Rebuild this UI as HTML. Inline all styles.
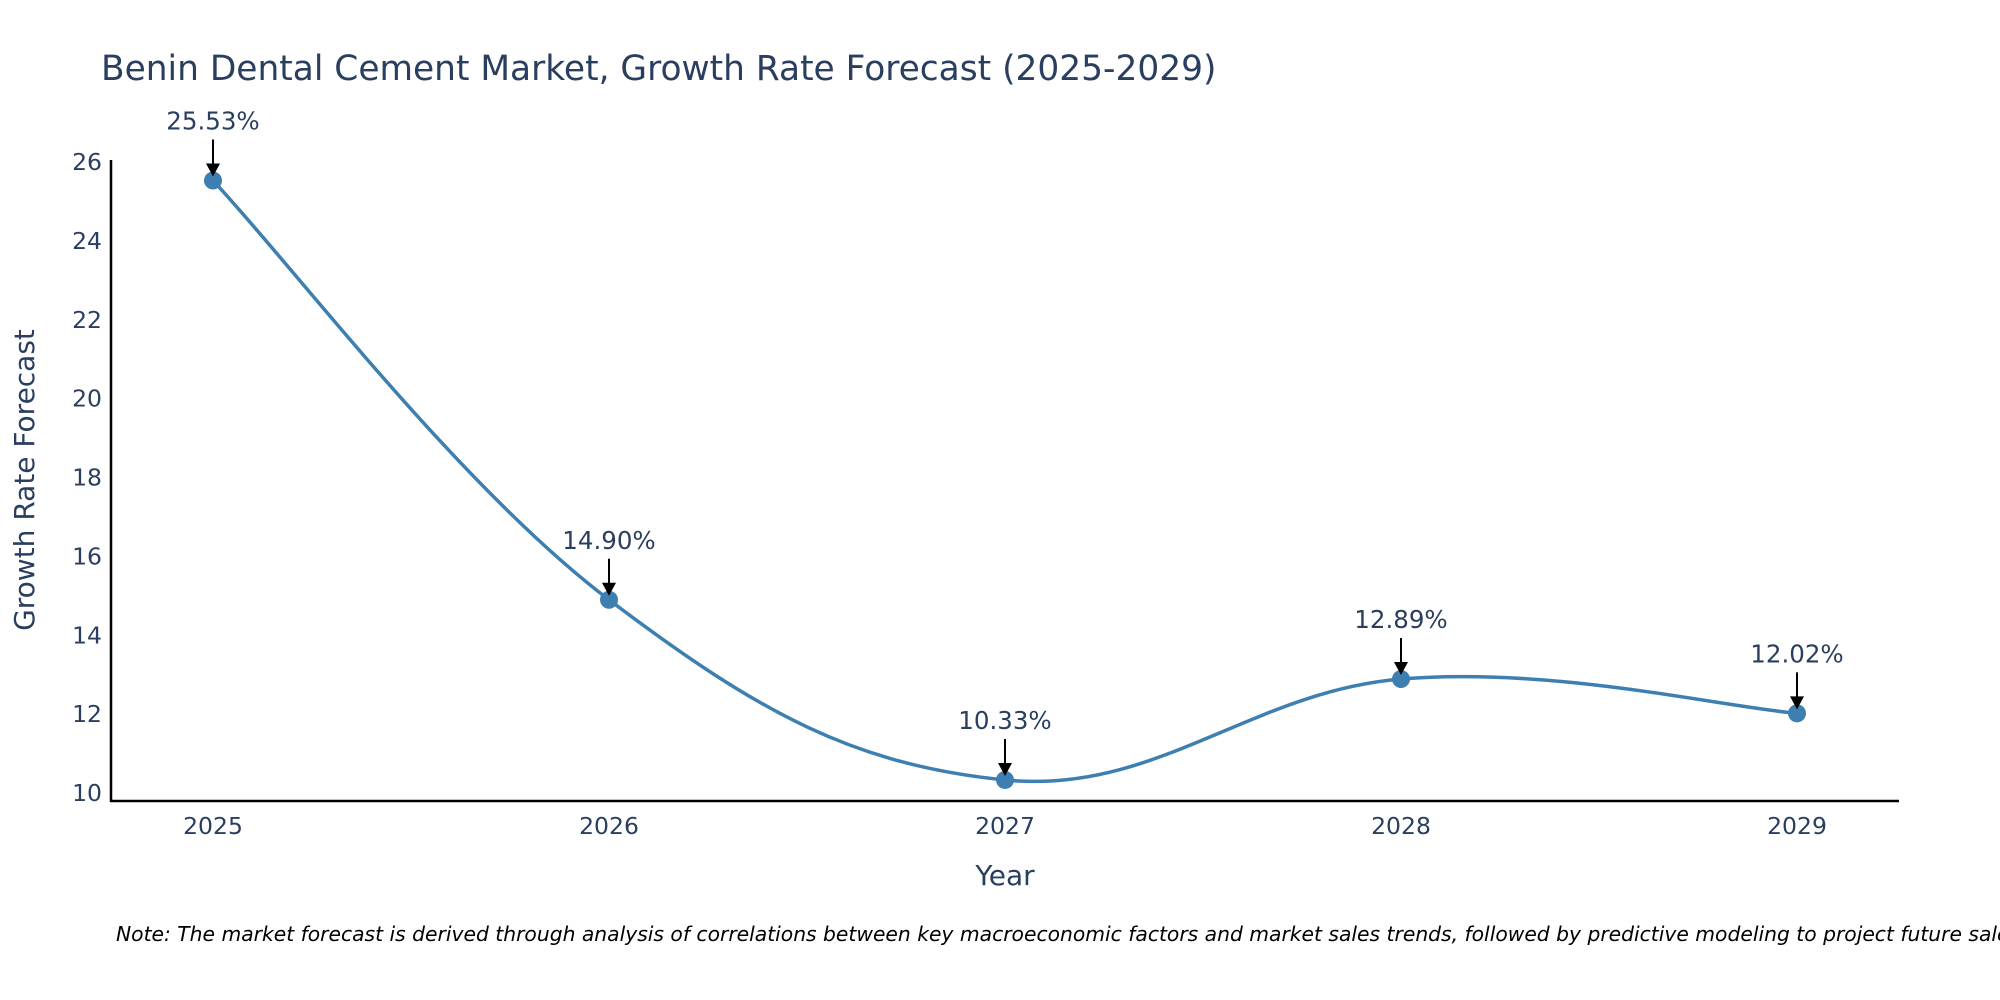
<!DOCTYPE html>
<html><head><meta charset="utf-8"><style>
html,body{margin:0;padding:0;background:#fff;}
svg{display:block;font-family:"DejaVu Sans","Liberation Sans",sans-serif;}
</style></head><body>
<svg id="chart" width="2000" height="1000" viewBox="0 0 2000 1000">
<text x="101" y="80" font-size="34.4" fill="#2a3f5f">Benin Dental Cement Market, Growth Rate Forecast (2025-2029)</text>
<line x1="111" y1="160" x2="111" y2="802" stroke="#000" stroke-width="2.5"/>
<line x1="110" y1="801" x2="1899" y2="801" stroke="#000" stroke-width="2.5"/>
<text transform="translate(34,480) rotate(-90)" text-anchor="middle" font-size="28" fill="#2a3f5f">Growth Rate Forecast</text>
<text x="1005" y="885" text-anchor="middle" font-size="28" fill="#2a3f5f">Year</text>
<g id="ticks"></g>
<path id="line" fill="none" stroke="#3d7fb1" stroke-width="3.5"/>
<g id="marks"></g>
<text x="116" y="941" font-size="20.3" font-style="italic" fill="#000">Note: The market forecast is derived through analysis of correlations between key macroeconomic factors and market sales trends, followed by predictive modeling to project future sales.</text>
</svg>
<script>
const years = [2025, 2026, 2027, 2028, 2029];
const values = [25.53, 14.90, 10.33, 12.89, 12.02];
const labels = ["25.53%", "14.90%", "10.33%", "12.89%", "12.02%"];
const yTicks = [10, 12, 14, 16, 18, 20, 22, 24, 26];
const NS = "http://www.w3.org/2000/svg";
function xs(v){ return 213 + (v - 2025) * (1797 - 213) / 4; }
function ys(v){ return 793 - (v - 10) * (793 - 162) / 16; }
function mk(tag, attrs, parent, txt){
  const e = document.createElementNS(NS, tag);
  for (const k in attrs) e.setAttribute(k, attrs[k]);
  if (txt !== undefined) e.textContent = txt;
  parent.appendChild(e); return e;
}
const ticks = document.getElementById('ticks');
yTicks.forEach(t => {
  const y = ys(t);
  const tx = mk('text', {x: 102, y: y + 8, 'text-anchor': 'end', 'font-size': 23.5, fill: '#2a3f5f'}, ticks, String(t));
  
  
});
years.forEach(yr => {
  const tx = mk('text', {x: xs(yr), y: 834, 'text-anchor': 'middle', 'font-size': 23.5, fill: '#2a3f5f'}, ticks, String(yr));
  
  
});
const pts = years.map((y, i) => [xs(y), ys(values[i])]);
let d = `M${pts[0][0]},${pts[0][1]}`;
const s = 0.19;
for (let i = 0; i < pts.length - 1; i++) {
  const p0 = pts[i - 1] || pts[i], p1 = pts[i], p2 = pts[i + 1], p3 = pts[i + 2] || pts[i + 1];
  const c1 = [p1[0] + (p2[0] - p0[0]) * s, p1[1] + (p2[1] - p0[1]) * s];
  const c2 = [p2[0] - (p3[0] - p1[0]) * s, p2[1] - (p3[1] - p1[1]) * s];
  d += ` C${c1[0]},${c1[1]} ${c2[0]},${c2[1]} ${p2[0]},${p2[1]}`;
}
document.getElementById('line').setAttribute('d', d);
const marks = document.getElementById('marks');
pts.forEach((p, i) => {
  const c = mk('circle', {cx: p[0], cy: p[1], r: 9, fill: '#3d7fb1'}, marks);
  
  
  const a = mk('line', {x1: p[0], y1: p[1] - 41, x2: p[0], y2: p[1] - 14, stroke: '#000', 'stroke-width': 2}, marks);
  
  
  const h = mk('polygon', {points: `${p[0]-7},${p[1]-17} ${p[0]+7},${p[1]-17} ${p[0]},${p[1]-4}`, fill: '#000'}, marks);
  
  
  const t = mk('text', {x: p[0], y: p[1] - 51, 'text-anchor': 'middle', 'font-size': 24.5, fill: '#2a3f5f'}, marks, labels[i]);
  
  
});
</script>
</body></html>
